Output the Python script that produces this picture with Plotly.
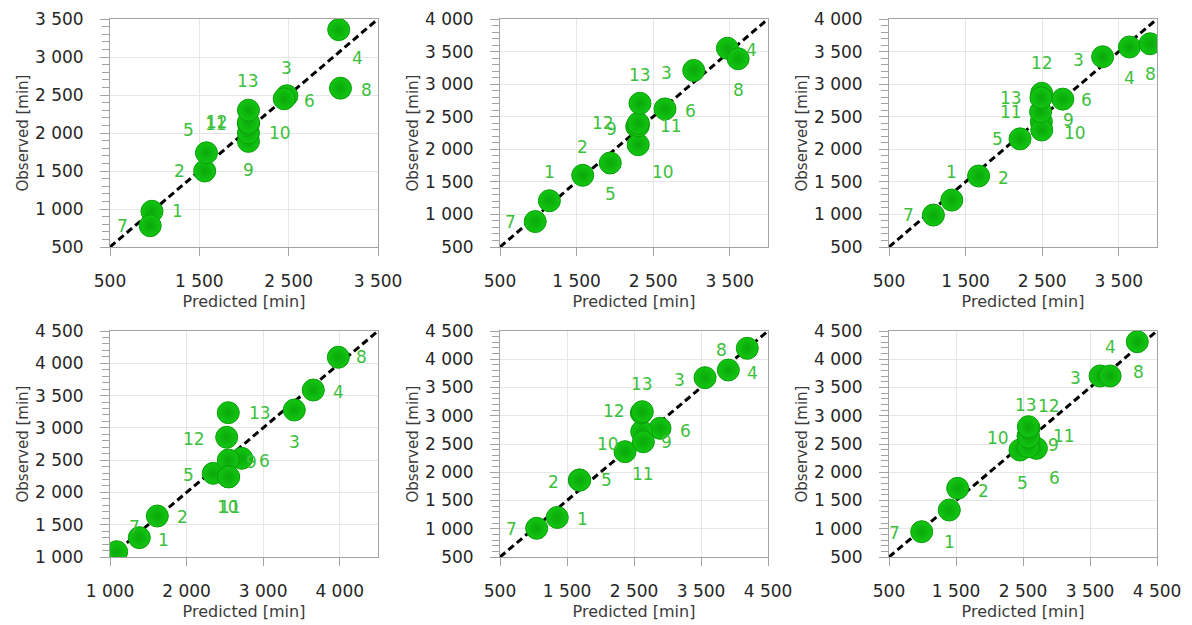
import plotly.graph_objects as go

# Run numbers shown next to every point
POINT_IDS = list(range(1, 14))

# Predicted vs. observed durations [min], one pair of lists per panel (runs 1..13)
PRED_A = [970, 1560, 2480, 3060, 1580, 2450, 950, 3080, 2050, 2050, 2050, 2050, 2050]
OBS_A = [970, 1500, 2490, 3360, 1740, 2450, 780, 2590, 1890, 2000, 2120, 2140, 2300]

PRED_B = [1145, 1580, 3030, 3470, 1940, 2655, 960, 3610, 2285, 2305, 2306, 2306, 2328]
OBS_B = [1210, 1600, 3210, 3550, 1790, 2620, 890, 3390, 2350, 2070, 2360, 2400, 2706]

PRED_C = [1320, 1670, 3290, 3640, 2211, 2770, 1080, 3910, 2490, 2495, 2480, 2494, 2485]
OBS_C = [1220, 1590, 3420, 3570, 2160, 2770, 990, 3620, 2424, 2296, 2577, 2859, 2790]

PRED_D = [1383, 1618, 3407, 3655, 2349, 2720, 1087, 3982, 2545, 2545, 2550, 2524, 2545]
OBS_D = [1300, 1635, 3277, 3586, 2296, 2528, 1082, 4093, 2502, 2244, 2240, 2854, 3235]

PRED_E = [1355, 1684, 3560, 3908, 1690, 2888, 1047, 4191, 2615, 2366, 2640, 2610, 2624]
OBS_E = [1200, 1863, 3674, 3810, 1860, 2778, 1008, 4194, 2720, 2364, 2540, 3050, 3072]

PRED_F = [1400, 1525, 3650, 4206, 2455, 2700, 988, 3800, 2580, 2575, 2585, 2590, 2580]
OBS_F = [1332, 1716, 3704, 4311, 2394, 2423, 948, 3704, 2452, 2640, 2620, 2780, 2806]

# Axis extents and labelled ticks
RANGE_A = [500, 3500]
RANGE_BC = [500, 4000]
RANGE_D = [1000, 4500]
RANGE_EF = [500, 4500]

XTICKS_A = [500, 1500, 2500, 3500]
XTICKS_BC = [500, 1500, 2500, 3500]
XTICKS_D = [1000, 2000, 3000, 4000]
XTICKS_EF = [500, 1500, 2500, 3500, 4500]

YTICKS_A = [500, 1000, 1500, 2000, 2500, 3000, 3500]
YTICKS_BC = [500, 1000, 1500, 2000, 2500, 3000, 3500, 4000]
YTICKS_D = [1000, 1500, 2000, 2500, 3000, 3500, 4000, 4500]
YTICKS_EF = [500, 1000, 1500, 2000, 2500, 3000, 3500, 4000, 4500]

X_TITLE = "Predicted [min]"
Y_TITLE = "Observed [min]"

# Pixel offsets (right, down) of each run number from its marker
LABEL_OFFSETS_A = [(26, 0), (-25, 0), (0, -28), (19, 28), (-18, -23), (25, 2), (-28, 0),
                   (26, 2), (0, 29), (32, 0), (-32, 0), (-31, 0), (0, -29)]
LABEL_OFFSETS_B = [(0, -29), (0, -28), (-27, 3), (24, 2), (0, 31), (25, 2), (-25, 0),
                   (0, 31), (-25, 3), (25, 27), (33, 0), (-35, 0), (0, -28)]
LABEL_OFFSETS_C = [(0, -28), (25, 2), (-24, 3), (0, 31), (-23, 0), (24, 1), (-25, 0),
                   (0, 30), (27, -2), (33, 3), (-30, 0), (0, -30), (-30, 0)]
LABEL_OFFSETS_D = [(24, 2), (25, 1), (0, 32), (25, 2), (-25, 2), (23, 3), (18, -25),
                   (23, 0), (23, 2), (0, 30), (1, 30), (-33, 2), (32, 0)]
LABEL_OFFSETS_E = [(25, 2), (-26, 2), (-26, 2), (24, 3), (27, 0), (25, 3), (-25, 1),
                   (-26, 2), (25, 10), (-17, -8), (0, 32), (-27, -2), (0, -28)]
LABEL_OFFSETS_F = [(0, 32), (26, 3), (-25, 2), (-27, 5), (3, 33), (18, 30), (-27, 1),
                   (28, -4), (25, -2), (-30, 2), (35, -1), (20, -22), (-2, -22)]

W, H = 1192, 625
FONT = "DejaVu Sans"
TICK_COLOR = "#262626"
FRAME = "#a3a3a3"
GRID = "#e6e6e6"
LABEL_GREEN = "#3cc03c"
THOUSANDS_SEP = " "

# panel: (pred, obs, offsets, axis range, x ticks, y ticks, plot-area box in px [x0, x1, y0, y1])
panels = [
    (PRED_A, OBS_A, LABEL_OFFSETS_A, RANGE_A, XTICKS_A, YTICKS_A, (110, 378, 19, 247)),
    (PRED_B, OBS_B, LABEL_OFFSETS_B, RANGE_BC, XTICKS_BC, YTICKS_BC, (500, 768, 19, 247)),
    (PRED_C, OBS_C, LABEL_OFFSETS_C, RANGE_BC, XTICKS_BC, YTICKS_BC, (889, 1157, 19, 247)),
    (PRED_D, OBS_D, LABEL_OFFSETS_D, RANGE_D, XTICKS_D, YTICKS_D, (110, 378, 331, 557)),
    (PRED_E, OBS_E, LABEL_OFFSETS_E, RANGE_EF, XTICKS_EF, YTICKS_EF, (500, 768, 331, 557)),
    (PRED_F, OBS_F, LABEL_OFFSETS_F, RANGE_EF, XTICKS_EF, YTICKS_EF, (889, 1157, 331, 557)),
]


def fmt(v):
    return f"{v:,}".replace(",", THOUSANDS_SEP)


fig = go.Figure()
annotations = []
layout_axes = {}

for i, (pred, obs, offsets, rng, xt, yt, box) in enumerate(panels, start=1):
    sfx = "" if i == 1 else str(i)
    xa, ya = f"x{sfx}", f"y{sfx}"
    x0, x1, y0, y1 = box

    # 1:1 reference line across the panel
    fig.add_trace(go.Scatter(
        x=rng, y=rng, mode="lines", xaxis=xa, yaxis=ya, showlegend=False,
        line=dict(color="black", width=3, dash="7px,4px"), hoverinfo="skip"))

    fig.add_trace(go.Scatter(
        x=pred, y=obs, mode="markers", xaxis=xa, yaxis=ya, showlegend=False,
        cliponaxis=True,
        marker=dict(size=22, color="#12c612",
                    gradient=dict(type="radial", color="#0aa80a"),
                    line=dict(color="#0c9e0c", width=1))))

    for pid, px, py, (dx, dy) in zip(POINT_IDS, pred, obs, offsets):
        annotations.append(dict(
            x=px, y=py, xref=xa, yref=ya, text=str(pid), showarrow=False,
            xshift=dx, yshift=-dy,
            font=dict(family=FONT, size=17, color=LABEL_GREEN)))

    layout_axes[f"xaxis{sfx}"] = dict(
        domain=[x0 / W, x1 / W], range=rng, anchor=ya, automargin=False,
        tickvals=xt, ticktext=[fmt(v) for v in xt],
        ticks="outside", ticklen=8, tickcolor=FRAME, tickwidth=1,
        ticklabelstandoff=11,
        showline=True, mirror=True, linecolor=FRAME, linewidth=1,
        showgrid=True, gridcolor=GRID, gridwidth=1, zeroline=False,
        tickfont=dict(family=FONT, size=17, color=TICK_COLOR),
        title=dict(text=X_TITLE, standoff=5,
                   font=dict(family=FONT, size=16, color="#3a3a3a")))
    layout_axes[f"yaxis{sfx}"] = dict(
        domain=[1 - y1 / H, 1 - y0 / H], range=rng, anchor=xa, automargin=False,
        tickvals=yt, ticktext=[fmt(v) for v in yt],
        ticks="outside", ticklen=9, tickcolor=FRAME, tickwidth=1,
        ticklabelstandoff=13,
        minor=dict(dtick=100, tick0=0, ticks="outside", ticklen=7,
                   tickcolor=FRAME, showgrid=False),
        showline=True, mirror=True, linecolor=FRAME, linewidth=1,
        showgrid=True, gridcolor=GRID, gridwidth=1, zeroline=False,
        tickfont=dict(family=FONT, size=17, color=TICK_COLOR),
        title=dict(text=Y_TITLE, standoff=2,
                   font=dict(family=FONT, size=15, color="#3a3a3a")))

fig.update_layout(
    width=W, height=H, margin=dict(l=0, r=0, t=0, b=0),
    paper_bgcolor="white", plot_bgcolor="white",
    annotations=annotations, **layout_axes)

fig.write_html("out.html")
